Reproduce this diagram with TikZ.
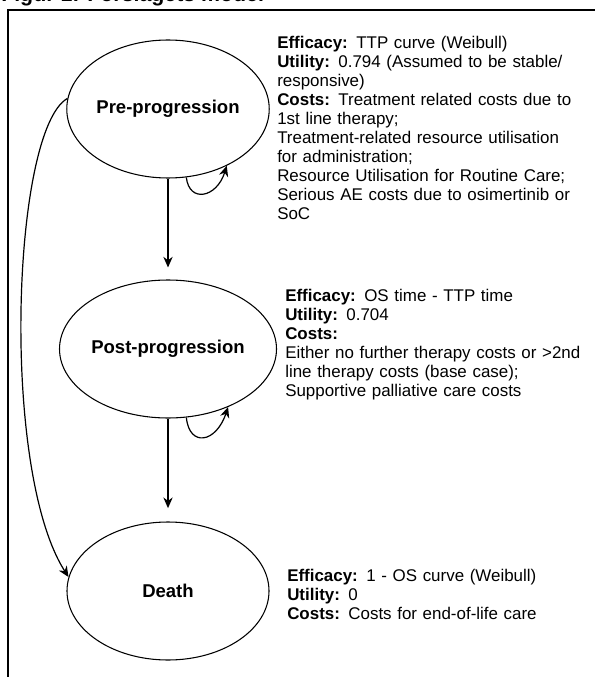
\documentclass[tikz,border=0pt]{standalone}
\usepackage{fontspec}
\setmainfont{Liberation Sans}
\usetikzlibrary{shapes.geometric, arrows.meta, positioning}

\begin{document}
\begin{tikzpicture}[
    x=0.75pt, y=-0.75pt,
    state/.style={draw, ellipse, line width=0.8pt, minimum width=151.5pt, minimum height=103.5pt, inner sep=0pt, font=\fontsize{13.9}{16}\selectfont\bfseries},
    info/.style={anchor=north west, inner sep=0pt, text width=235pt, align=left, font=\fontsize{12.7}{14.25}\selectfont},
    trans/.style={-{Stealth[length=8pt, width=7pt]}, line width=0.9pt}
]
\clip (0,0) rectangle (595,677);

% Title (cut off at the top)
\node[anchor=base west, inner sep=0pt, font=\fontsize{16}{18}\selectfont\bfseries] (title) at (1,2) {Figur 1: Forslagets model};

% Frame
\draw[line width=1.1pt] (8,700) -- (8,10) -- (620,10);

% Health states
\node[state] (pre) at (168,109) {Pre-progression};
\node[state] (post) at (168,349) {Post-progression};
\node[state] (death) at (168,591) {Death};

% Transitions
\draw[trans, shorten >=9pt] (pre) -- (post);
\draw[trans, shorten >=10pt] (post) -- (death);
\draw[trans] (pre.-75) .. controls +(3,26) and +(-10,32) .. (pre.-44);
\draw[trans] (post.-75) .. controls +(3,30) and +(-12,36) .. (post.-44);
\draw[trans] (pre.174) .. controls (12,130) and (0,470) .. (death.172);

% Inputs per state
\node[info] (preinfo) at (277,35.5) {\textbf{Efficacy:} TTP curve (Weibull)\\
\makebox[214pt][s]{\textbf{Utility:} 0.794 (Assumed to be stable/}\\
responsive)\\
\textbf{Costs:} Treatment related costs due to\\
1st line therapy;\\
\makebox[214pt][s]{Treatment-related resource utilisation}\\
for administration;\\
Resource Utilisation for Routine Care;\\
Serious AE costs due to osimertinib or\\
SoC};

\node[info] (postinfo) at (285,288.5) {\textbf{Efficacy:} OS time - TTP time\\
\textbf{Utility:} 0.704\\
\textbf{Costs:}\\
Either no further therapy costs or >2nd\\
line therapy costs (base case);\\
Supportive palliative care costs};

\node[info] (deathinfo) at (287,568.5) {\textbf{Efficacy:} 1 - OS curve (Weibull)\\
\textbf{Utility:} 0\\
\textbf{Costs:} Costs for end-of-life care};

\end{tikzpicture}
\end{document}
